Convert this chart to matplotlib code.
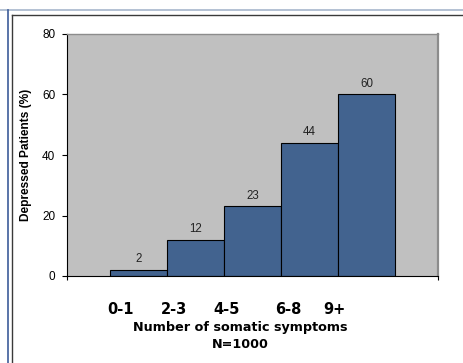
import matplotlib

matplotlib.use("Agg")
import matplotlib.pyplot as plt
from matplotlib.lines import Line2D

categories = ["0-1", "2-3", "4-5", "6-8", "9+"]
values = [2, 12, 23, 44, 60]
y_ticks = [0, 20, 40, 60, 80]

BAR = "#42638f"
PLOT_BG = "#c0c0c0"
W, H = 464, 363

fig = plt.figure(figsize=(W / 100, H / 100), dpi=100)
fig.patch.set_facecolor("white")


def fx(px):
    return px / W


def fy(py):
    return 1 - py / H


# slide frame lines
fig.add_artist(Line2D([0, 1], [fy(9.5), fy(9.5)], color="#a7b6cc", lw=1.2))
fig.add_artist(Line2D([fx(7.5), fx(7.5)], [fy(9.5), 0], color="#3d5c99", lw=1.2))
fig.add_artist(Line2D([fx(12.5), 1], [fy(14.5), fy(14.5)], color="#3a3a3a", lw=1.0))
fig.add_artist(Line2D([fx(12.5), fx(12.5)], [fy(14.5), 0], color="#3a3a3a", lw=1.0))

ax = fig.add_axes([fx(67), fy(276), fx(438) - fx(67), fy(34) - fy(276)])
ax.set_facecolor(PLOT_BG)

x = list(range(len(categories)))
bars = ax.bar(x, values, width=1.0, color=BAR, edgecolor="black", linewidth=0.8, zorder=2)
for xi, v in zip(x, values):
    ax.text(xi, v + 1.6, str(v), ha="center", va="bottom", fontsize=8.3,
            family="Liberation Sans", color="#222222")

ax.set_xlim(-1.25, 5.25)
ax.set_ylim(0, 80)
ax.set_yticks(y_ticks)
ax.set_yticklabels([str(t) for t in y_ticks], fontsize=8.5, family="Liberation Sans")
ax.set_xticks([-1.25, 5.25])
ax.set_xticklabels(["", ""])
ax.tick_params(axis="y", direction="out", length=3.5, width=0.8, pad=5)
ax.tick_params(axis="x", direction="out", length=3, width=0.8)

ax.spines["left"].set_color("black")
ax.spines["bottom"].set_color("black")
ax.spines["left"].set_linewidth(0.8)
ax.spines["bottom"].set_linewidth(0.8)
ax.spines["top"].set_color("#8c8c8c")
ax.spines["right"].set_color("#8c8c8c")
ax.spines["top"].set_linewidth(1.0)
ax.spines["right"].set_linewidth(1.6)

ax.set_ylabel("Depressed Patients (%)", fontsize=8.6, fontweight="bold",
              family="Liberation Sans", labelpad=7)

# category labels typed on the slide below the chart
label_px = [121, 174, 227, 288, 334]
for px, cat in zip(label_px, categories):
    fig.text(fx(px), fy(309), cat, ha="center", va="center", fontsize=10.5,
             fontweight="bold", family="DejaVu Sans")
fig.text(fx(240), fy(328), "Number of somatic symptoms", ha="center", va="center",
         fontsize=9.2, fontweight="bold", family="DejaVu Sans")
fig.text(fx(240), fy(344), "N=1000", ha="center", va="center",
         fontsize=9.2, fontweight="bold", family="DejaVu Sans")

fig.savefig("out.png", dpi=100)
